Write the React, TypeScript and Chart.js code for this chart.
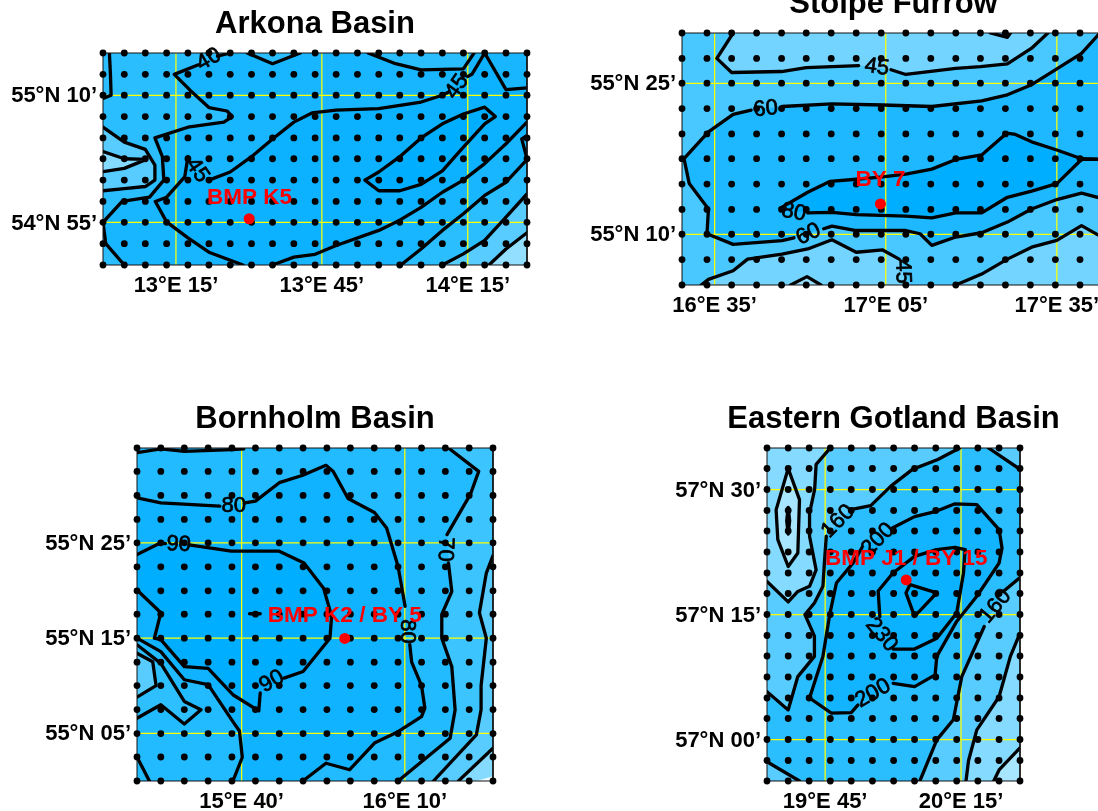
import React, { useEffect, useRef } from "react";
import { Chart, registerables } from "chart.js";

Chart.register(...registerables);

type P = [number, number]; // [grid column, grid row] of the survey grid

const FONT = '"Liberation Sans", Arial, sans-serif';
const C1 = "#00AEFF";
const C2 = "#12B4FF";
const C3 = "#2ABEFF";
const C4 = "#58CCFF";
const C5 = "#85DBFF";
const C6 = "#A8E6FF";

/* ---------- Arkona Basin ---------- */
const arkonaLons = [13.0, 13.073, 13.145, 13.218, 13.291, 13.363, 13.436, 13.509, 13.581, 13.654, 13.727, 13.799, 13.872, 13.945, 14.017, 14.09, 14.163, 14.235, 14.308, 14.381, 14.453];
const arkonaLats = [55.25, 55.208, 55.167, 55.125, 55.083, 55.042, 55.0, 54.958, 54.917, 54.875, 54.833];
const arkonaLonTicks = [13.25, 13.75, 14.25];
const arkonaLonLabels = ["13°E 15’", "13°E 45’", "14°E 15’"];
const arkonaLatTicks = [55.1667, 54.9167];
const arkonaLatLabels = ["55°N 10’", "54°N 55’"];
const aEdge: P[] = [[.3, 0], [.35, 1], [.38, 2], [0, 2.15]];
const a40Top: P[] = [[6, 0], [5.4, .15]];
const a40: P[] = [[4.5, .55], [3.36, 1], [4.1, 1.76], [5, 2.58], [5.85, 2.74], [6.1, 3], [5.7, 3.26], [4, 3.5], [2.45, 4], [2.8, 4.9], [2.87, 6], [2.2, 6.8], [.9, 7], [0, 8], [.13, 9], [1, 10]];
const aPocket: P[] = [[0, 3.5], [1, 4.2], [2, 4.55], [2.45, 5.3], [2.45, 6], [2, 6.3], [1, 6.4], [0, 6.5]];
const aPocketIn: P[] = [[0, 4.65], [1, 5], [2.05, 5.03], [1, 5.45], [0, 5.6]];
const a45West: P[] = [[6.6, 10], [5, 9.4], [4, 8.73], [3, 7.98], [2.47, 7], [3, 6.8], [3.85, 5.85], [4, 4.9]];
const a45Mid: P[] = [[5, 6], [6, 5.62], [7, 4.9], [8, 4.05], [9, 3.26], [9.85, 2.83], [11, 2.7], [13, 2.63], [15, 2.32], [16, 2], [16.3, 1.85]];
const a45East: P[] = [[17.2, 1.1], [17.4, 1], [18, 0], [19, 1.73], [20, 1.65]];
const a50: P[] = [[12.35, 6], [13, 6.5], [14, 6.5], [15, 6.2], [16, 5.57], [17, 4.44], [18, 3.34], [18.5, 3], [18, 2.56], [17, 2.88], [16, 3.34], [15, 4], [14, 4.9], [13, 5.62], [12.35, 6]];
const a45South: P[] = [[8, 10], [9, 9.63], [10, 9.5], [11, 9.09], [13, 8.38], [14, 7.9], [15, 7.28], [16, 6.57], [17, 6], [18, 5.23], [19, 4.28], [20, 3.26]];
const a40South: P[] = [[14.05, 10], [15, 9.25], [16, 8.38], [17, 7.59], [18, 6.72], [19, 6.1], [20, 5.04]];
const aEastEdge: P[] = [[20, 3.9], [19.75, 4.05], [20, 5]];
const a35South: P[] = [[16, 10], [17, 9.48], [18, 8.85], [19, 7.75], [20, 6.65]];
const a30South: P[] = [[18.2, 10], [19, 9.25], [20, 8.49]];
const aNorthEast: P[] = [[12.5, 0], [13.8, .5], [15, .79], [17, .74], [17.5, 0]];
const aNorth: P[] = [[6.8, 0], [8, .5], [9.3, 0]];

/* ---------- Stolpe Furrow ---------- */
const stolpeLons = [16.488, 16.561, 16.633, 16.706, 16.779, 16.851, 16.924, 16.997, 17.07, 17.142, 17.215, 17.288, 17.36, 17.433, 17.506, 17.579, 17.651, 17.724];
const stolpeLats = [55.5, 55.458, 55.417, 55.375, 55.333, 55.292, 55.25, 55.208, 55.167, 55.125, 55.083];
const stolpeLonTicks = [16.5833, 17.0833, 17.5833];
const stolpeLonLabels = ["16°E 35’", "17°E 05’", "17°E 35’"];
const stolpeLatTicks = [55.4167, 55.1667];
const stolpeLatLabels = ["55°N 25’", "55°N 10’"];
const s45A: P[] = [[2.06, 0], [1.4, 1], [2, 1.57], [4, 1.53], [5, 1.37], [7.1, 1.29]];
const s45B: P[] = [[8.4, 1.46], [9, 1.65], [11, 1.4], [12, 1.33], [13.08, 1.22], [14.05, .6], [14.7, 0]];
const sNotch: P[] = [[12.4, 0], [13.08, .17], [13.2, 0]];
const s60A: P[] = [[16.8, 0], [16.06, .8], [15.06, 1.42], [14.05, 2.06], [13.08, 2.46], [12.05, 2.7], [10.04, 2.92], [8.06, 2.86], [6.03, 2.82], [4.02, 2.92]];
const s60B: P[] = [[2.78, 3.06], [2.06, 3.23], [1.06, 3.92], [.08, 5], [.29, 5.98], [1.06, 6.98], [1, 7.98], [2.06, 8.4], [4.02, 8.25], [4.5, 8.14]];
const s60C: P[] = [[5.7, 7.78], [6.03, 7.67], [7, 7.85], [9, 7.85], [9.57, 7.98], [10.04, 8.44], [11, 8.11], [12.05, 7.94], [13.08, 7.51], [14.05, 6.98], [15.06, 6.61], [16.06, 6.36], [17, 6.6]];
const s80A: P[] = [[17, 5.03], [16.06, 5], [15.06, 4.65], [14.05, 4.32], [13.4, 4.02], [13.05, 3.97], [12.05, 4.85], [11, 5.03], [10.04, 5.41], [9, 5.61], [8.06, 5.72], [7, 5.81], [5.96, 5.89], [5.06, 6.32], [3.95, 6.95], [4.1, 7.02]];
const s80B: P[] = [[5.06, 7.14], [6.03, 7.12], [7, 7.21], [9, 7.27], [10.04, 7.34], [11, 7.14], [12.05, 7.14], [13.08, 6.52], [14.05, 6.28], [15.06, 5.98], [16.06, 5.03], [17, 5.03]];
const s45South: P[] = [[.77, 10], [1.06, 9.78], [2.06, 9.44], [2.64, 8.98], [4.02, 8.78], [5.06, 8.58], [6.03, 8.22], [7, 8.71], [8.06, 8.62], [8.73, 8.98]];
const s45SouthEast: P[] = [[11, 10], [12.05, 9.57], [13.08, 8.98], [14.05, 8.51], [15.06, 8.24], [16.06, 7.65], [17, 8.18]];
const sBump: P[] = [[4.37, 10], [5.03, 9.67], [5.59, 10]];

/* ---------- Bornholm Basin ---------- */
const bornholmLons = [15.346, 15.419, 15.491, 15.564, 15.637, 15.709, 15.782, 15.855, 15.928, 16.0, 16.073, 16.146, 16.218, 16.291, 16.364, 16.437];
const bornholmLats = [55.583, 55.542, 55.5, 55.458, 55.417, 55.375, 55.333, 55.292, 55.25, 55.208, 55.167, 55.125, 55.083, 55.042, 55.0];
const bornholmLonTicks = [15.6667, 16.1667];
const bornholmLonLabels = ["15°E 40’", "16°E 10’"];
const bornholmLatTicks = [55.4167, 55.25, 55.0833];
const bornholmLatLabels = ["55°N 25’", "55°N 15’", "55°N 05’"];
const bTop: P[] = [[0, .2], [1, .04], [2, .14], [4, .07], [4.5, .04]];
const b80A: P[] = [[0, 2.1], [1, 2.31], [3.49, 2.45]];
const b80B: P[] = [[4.55, 2.31], [5, 2.24], [6, 1.47], [6.99, 1.16], [7.96, .74], [8.27, 1], [8.9, 2.13], [10.01, 2.71], [10.52, 3.37], [11, 4.98], [11.3, 6.66]];
const b80C: P[] = [[11.5, 8.27], [11.58, 9], [12, 10], [12.14, 10.94], [12, 11.29], [11, 11.92], [10.03, 12.39], [8.97, 13.53], [7.96, 13.26], [6.99, 14]];
const b80West: P[] = [[0, 8], [1, 8.56], [2, 9.75], [3, 9.96], [4.04, 11.5], [4.32, 11.89], [4.44, 13.01], [4.04, 14]];
const b90A: P[] = [[0, 4.49], [1, 4], [1.2, 4.03]];
const b90B: P[] = [[2.2, 4.09], [3.97, 4.35], [6, 4.35], [7.04, 4.84], [7.86, 5.89], [8.2, 7.08], [8.13, 8], [7, 9.4], [6.2, 9.68]];
const b90C: P[] = [[5.2, 10.3], [5.14, 11.05], [4.04, 10.38], [3, 9.26], [2, 9.19], [1, 8.06], [.73, 8], [1, 6.94], [0, 5.96]];
const bDash: P[] = [[4.75, 6.98], [5.2, 6.98]];
const bWest: P[] = [[0, 8.27], [1, 9.05], [2, 10.66], [2.7, 11.01], [2, 11.6], [1, 10.8], [0, 11.36]];
const bWestIn: P[] = [[0, 8.63], [.66, 8.98], [.8, 10], [0, 10.48]];
const bCorner: P[] = [[0, 13], [.52, 14]];
const b70A: P[] = [[13.13, 0], [14.4, 1], [14.05, 1.96], [13.07, 3.65]];
const b70B: P[] = [[13.13, 4.84], [13.27, 6.03], [12.85, 7.01], [12.85, 8], [13.27, 9.19], [13.41, 11.01], [13.2, 12.2], [11, 14]];
const b60: P[] = [[15, 4.53], [14.72, 5.26], [14.43, 6.94], [14.72, 8], [14.5, 10], [14.5, 11], [14.3, 12.06], [12.5, 14]];
const b50: P[] = [[15, 12.62], [13.55, 14]];
const bShore: P[] = [[14.3, 14], [15, 13.8], [15, 14]];

/* ---------- Eastern Gotland Basin ---------- */
const gotlandLons = [19.536, 19.614, 19.691, 19.769, 19.846, 19.924, 20.002, 20.079, 20.157, 20.234, 20.312, 20.39, 20.467];
const gotlandLats = [57.583, 57.542, 57.5, 57.458, 57.417, 57.375, 57.333, 57.292, 57.25, 57.208, 57.167, 57.125, 57.083, 57.042, 57.0, 56.958, 56.917];
const gotlandLonTicks = [19.75, 20.25];
const gotlandLonLabels = ["19°E 45’", "20°E 15’"];
const gotlandLatTicks = [57.5, 57.25, 57.0];
const gotlandLatLabels = ["57°N 30’", "57°N 15’", "57°N 00’"];
const gLens: P[] = [[1, 1], [1.54, 2.48], [1.46, 5.05], [1, 5.69], [.51, 4.41], [.43, 2.97], [1, 1]];
const gLensCore: P[] = [[1, 2.85], [1.07, 3.5], [1, 4.15], [.93, 3.5], [1, 2.85]];
const g120: P[] = [[3, 0], [2.33, .8], [2.26, 2], [2.02, 3.13], [2.02, 4.25], [2.33, 5.85], [2.02, 6.65], [1.46, 6.9], [1, 7.4], [0, 6.41]];
const g160A: P[] = [[9.14, 0], [8.1, .56], [6.9, 1.04], [5.87, 1.84], [4.92, 2.77], [3.97, 2.96]];
const g160B: P[] = [[2.81, 4.25], [2.73, 5.37], [2.65, 6.65], [2.25, 7.45], [1.8, 8], [2.25, 9.03], [2.25, 10.02], [1.46, 10.98], [1, 12.58], [0, 11.7]];
const g200A: P[] = [[5.94, 3.85], [7, 3.3], [8.02, 3.04], [8.92, 2.68], [9.95, 2.72], [11, 3.93], [11.14, 4.81], [11, 5.53], [9.95, 7.13], [9, 8.33], [8.05, 10.02], [7.97, 10.9], [7, 11.46], [5.98, 11.3]];
const g200B: P[] = [[4.32, 12.34], [4, 12.71], [3.05, 12.74], [2.02, 12], [2.65, 10.02], [2.97, 8.01], [3.29, 6.49], [4.08, 5.53], [4.5, 4.8]];
const g230A: P[] = [[9.4, 4.89], [8.92, 4.78], [8.05, 4.89], [7, 5.21], [5.97, 6], [5.27, 6.88], [5.35, 8.1]];
const g230B: P[] = [[5.98, 9.66], [7, 9.66], [8.05, 9.13], [9, 7.93], [9.32, 6.01], [9.4, 4.89]];
const gCore: P[] = [[6.78, 6.57], [8.05, 6.97], [7, 8.09], [6.59, 6.97], [6.78, 6.57]];
const g160EastA: P[] = [[12, 6.22], [11.2, 6.9]];
const g160EastB: P[] = [[10.3, 8.57], [9.24, 10.98], [8.84, 13.06], [8.05, 14.02], [7.25, 16]];
const g120East: P[] = [[12, 8.89], [11.54, 10.02], [11, 11.94], [9.95, 13.54], [9.56, 15], [9.44, 16]];
const g100East: P[] = [[12, 14.4], [11, 15.46], [10.75, 16]];
const gNorthEast: P[] = [[10.5, 0], [12, 1.04]];
const gSouthWest: P[] = [[0, 15.06], [1.54, 16]];

type Label = { at: P; text: string; rot: number };
type Panel = {
  title: string; lons: number[]; lats: number[]; lonTicks: number[]; lonLabels: string[]; latTicks: number[]; latLabels: string[];
  base: string; fills: { color: string; pts: P[] }[]; lines: P[][]; station: P; stationName: P; stationText: string; labels: Label[];
  box: { left: number; right: number; top: number; bottom: number };
};

const panels: Panel[] = [
  {
    title: "Arkona Basin", lons: arkonaLons, lats: arkonaLats, lonTicks: arkonaLonTicks, lonLabels: arkonaLonLabels, latTicks: arkonaLatTicks, latLabels: arkonaLatLabels,
    base: "#18B6FF",
    fills: [
      { color: C3, pts: [...a40Top, ...a40, [0, 10], [0, 0]] },
      { color: C4, pts: aPocket },
      { color: C5, pts: aPocketIn },
      { color: C3, pts: aNorthEast },
      { color: C3, pts: aNorth },
      { color: "#0CB2FF", pts: [...a45West, ...a45Mid, ...a45East, [20, 3.26], ...[...a45South].reverse()] },
      { color: C1, pts: a50 },
      { color: C3, pts: [...a40South, [20, 10]] },
      { color: C4, pts: [...a35South, [20, 10]] },
      { color: "#92DFFF", pts: [...a30South, [20, 10]] },
    ],
    lines: [aEdge, a40Top, a40, aPocket, aPocketIn, a45West, a45Mid, a45East, a50, a45South, a40South, aEastEdge, a35South, a30South, aNorthEast, aNorth],
    station: [6.89, 7.83], stationName: [6.9, 6.85], stationText: "BMP K5",
    labels: [
      { at: [5, .3], text: "40", rot: -30 },
      { at: [4.44, 5.54], text: "45", rot: 55 },
      { at: [16.7, 1.6], text: "45", rot: -55 },
    ],
    box: { left: 103, right: 527, top: 53, bottom: 265 },
  },
  {
    title: "Stolpe Furrow", lons: stolpeLons, lats: stolpeLats, lonTicks: stolpeLonTicks, lonLabels: stolpeLonLabels, latTicks: stolpeLatTicks, latLabels: stolpeLatLabels,
    base: "#49C7FF",
    fills: [
      { color: "#72D4FF", pts: [...s45A, ...s45B] },
      { color: "#49C7FF", pts: sNotch },
      { color: "#1DB8FF", pts: [...s60A, ...s60B, ...s60C, [17, 0]] },
      { color: C1, pts: [...s80A, ...s80B] },
      { color: "#72D4FF", pts: [...s45South, [8.87, 9.5], [9, 10]] },
      { color: "#72D4FF", pts: [...s45SouthEast, [17, 10]] },
      { color: "#9ADFFF", pts: sBump },
    ],
    lines: [s45A, s45B, sNotch, s60A, s60B, s60C, s80A, s80B, s45South, s45SouthEast, sBump],
    station: [7.97, 6.78], stationName: [7.97, 5.83], stationText: "BY 7",
    labels: [
      { at: [7.83, 1.36], text: "45", rot: 8 },
      { at: [3.36, 3.02], text: "60", rot: -5 },
      { at: [4.5, 7.12], text: "80", rot: 10 },
      { at: [5.09, 8], text: "60", rot: -25 },
      { at: [8.87, 9.47], text: "45", rot: 88 },
    ],
    box: { left: 682, right: 1105, top: 33, bottom: 285 },
  },
  {
    title: "Bornholm Basin", lons: bornholmLons, lats: bornholmLats, lonTicks: bornholmLonTicks, lonLabels: bornholmLonLabels, latTicks: bornholmLatTicks, latLabels: bornholmLatLabels,
    base: "#23BBFF",
    fills: [
      { color: "#0FB3FF", pts: [...b80A, ...b80B, ...b80C, ...[...b80West].reverse()] },
      { color: C1, pts: [...b90A, ...b90B, ...b90C] },
      { color: "#2EBFFF", pts: bWest },
      { color: C4, pts: bWestIn },
      { color: "#3CC4FF", pts: [...b70A, ...b70B, [15, 14], [15, 0]] },
      { color: C4, pts: [...b60, [15, 14]] },
      { color: C5, pts: [...b50, [15, 14]] },
      { color: "#F0FBFF", pts: bShore },
    ],
    lines: [bTop, b80A, b80B, b80C, b80West, b90A, b90B, b90C, bDash, bWest, bWestIn, bCorner, b70A, b70B, b60, b50],
    station: [8.76, 8.01], stationName: [8.76, 7.05], stationText: "BMP K2 / BY 5",
    labels: [
      { at: [4.08, 2.43], text: "80", rot: 0 },
      { at: [1.76, 4.07], text: "90", rot: 3 },
      { at: [5.69, 9.82], text: "90", rot: -30 },
      { at: [11.37, 7.72], text: "80", rot: 90 },
      { at: [12.99, 4.28], text: "70", rot: 92 },
    ],
    box: { left: 137, right: 493, top: 448, bottom: 781 },
  },
  {
    title: "Eastern Gotland Basin", lons: gotlandLons, lats: gotlandLats, lonTicks: gotlandLonTicks, lonLabels: gotlandLonLabels, latTicks: gotlandLatTicks, latLabels: gotlandLatLabels,
    base: C4,
    fills: [
      { color: C5, pts: [...g120, [0, 0]] },
      { color: C6, pts: gLens },
      { color: "#000000", pts: gLensCore },
      { color: C3, pts: [...g160A, ...g160B, ...gSouthWest, ...[...g160EastB].reverse(), ...[...g160EastA].reverse(), [12, 1.04], [10.5, 0]] },
      { color: C2, pts: [...g200A, ...g200B] },
      { color: "#0AB2FF", pts: [...g230A, ...g230B] },
      { color: C1, pts: gCore },
      { color: C5, pts: [...g120East, [12, 16]] },
      { color: C6, pts: [...g100East, [12, 16]] },
    ],
    lines: [gLens, gLensCore, g120, g160A, g160B, g200A, g200B, g230A, g230B, gCore, g160EastA, g160EastB, g120East, g100East, gNorthEast, gSouthWest],
    station: [6.6, 6.34], stationName: [6.6, 5.33], stationText: "BMP J1 / BY 15",
    labels: [
      { at: [3.37, 3.53], text: "160", rot: -45 },
      { at: [5.27, 4.41], text: "200", rot: -45 },
      { at: [5.03, 11.78], text: "200", rot: -30 },
      { at: [5.43, 8.97], text: "230", rot: 50 },
      { at: [10.83, 7.61], text: "160", rot: -50 },
    ],
    box: { left: 767, right: 1020, top: 448, bottom: 781 },
  },
];

const AXIS_W = 110;
const AXIS_H = 40;
const TITLE_SIZE = 31;
const TITLE_GAP = 9.8; // with the title line this makes a whole-pixel block

function PanelChart({ panel }: { panel: Panel }) {
  const ref = useRef<HTMLCanvasElement | null>(null);
  const { box } = panel;
  const titleBlock = TITLE_SIZE * 1.2 + TITLE_GAP;
  const cssLeft = box.left - AXIS_W;
  const cssTop = box.top - titleBlock;
  const w = box.right - box.left + AXIS_W * 2;
  const h = titleBlock + (box.bottom - box.top) + AXIS_H;

  useEffect(() => {
    const { lons, lats } = panel;
    const lastC = lons.length - 1;
    const lastR = lats.length - 1;
    const lerp = (a: number[], t: number) => {
      const i = Math.min(Math.max(Math.floor(t), 0), a.length - 2);
      return a[i] + (a[i + 1] - a[i]) * (t - i);
    };
    const geo = (pts: P[]) => pts.map(([c, r]) => ({ x: lerp(lons, c), y: lerp(lats, r) }));
    const xMin = lons[0], xMax = lons[lastC], yMax = lats[0], yMin = lats[lastR];

    const stack: any[] = [];
    const fillSet = (pts: { x: number; y: number }[], color: string) => ({
      data: pts, showLine: true, pointRadius: 0, borderWidth: 0, borderColor: "transparent", backgroundColor: color, fill: "shape",
    });
    stack.push(fillSet([{ x: xMin, y: yMax }, { x: xMax, y: yMax }, { x: xMax, y: yMin }, { x: xMin, y: yMin }], panel.base));
    panel.fills.forEach((f) => stack.push(fillSet(geo(f.pts), f.color)));
    panel.lonTicks.forEach((t) =>
      stack.push({ data: [{ x: t, y: yMin }, { x: t, y: yMax }], showLine: true, pointRadius: 0, borderWidth: 1.25, borderColor: "#FFFF00", fill: false })
    );
    panel.latTicks.forEach((t) =>
      stack.push({ data: [{ x: xMin, y: t }, { x: xMax, y: t }], showLine: true, pointRadius: 0, borderWidth: 1.25, borderColor: "#FFFF00", fill: false })
    );
    panel.lines.forEach((l) =>
      stack.push({ data: geo(l), showLine: true, pointRadius: 0, borderWidth: 3.3, borderColor: "#000", borderJoinStyle: "round", borderCapStyle: "round", fill: false })
    );
    stack.push({
      data: [{ x: xMin, y: yMax }, { x: xMax, y: yMax }, { x: xMax, y: yMin }, { x: xMin, y: yMin }, { x: xMin, y: yMax }],
      showLine: true, pointRadius: 0, borderWidth: 1, borderColor: "#111", fill: false, clip: false,
    });
    const dots: { x: number; y: number }[] = [];
    lats.forEach((y) => lons.forEach((x) => dots.push({ x, y })));
    stack.push({ data: dots, showLine: false, pointRadius: 3.4, pointBorderWidth: 0, backgroundColor: "#000", clip: false });
    stack.push({ data: geo([panel.station]), showLine: false, pointRadius: 5.5, pointBorderWidth: 0, backgroundColor: "#FF0000", clip: false });
    stack.forEach((d, i) => (d.order = stack.length - i));

    const labelPlugin = {
      id: "mapLabels",
      afterLayout(chart: any) {
        const t = chart.titleBlock;
        t.left = 0;
        t.right = chart.width;
        t.width = chart.width;
      },
      afterDatasetsDraw(chart: any) {
        const { ctx, scales } = chart;
        const put = (at: P, text: string, rot: number, color: string, bold: boolean, size: number) => {
          const [pt] = geo([at]);
          ctx.save();
          ctx.translate(scales.x.getPixelForValue(pt.x), scales.y.getPixelForValue(pt.y));
          ctx.rotate((rot * Math.PI) / 180);
          ctx.font = `${bold ? "bold " : ""}${size}px ${FONT}`;
          ctx.textAlign = "center";
          ctx.textBaseline = "middle";
          ctx.fillStyle = color;
          ctx.fillText(text, 0, 0);
          if (!bold) {
            ctx.strokeStyle = color;
            ctx.lineWidth = 0.7;
            ctx.strokeText(text, 0, 0);
          }
          ctx.restore();
        };
        panel.labels.forEach((l) => put(l.at, l.text, l.rot, "#000", false, 22));
        put(panel.stationName, panel.stationText, 0, "#FF0000", true, 22.5);
      },
    };

    const tickFont = { family: FONT, size: 22, weight: "bold" as const };
    const chart = new Chart(ref.current!, {
      type: "scatter",
      data: { datasets: stack },
      plugins: [labelPlugin],
      options: {
        animation: false,
        responsive: false,
        events: [],
        layout: { autoPadding: false, padding: { left: 0, right: AXIS_W, top: 0, bottom: 0 } },
        plugins: {
          legend: { display: false },
          tooltip: { enabled: false },
          title: {
            display: true, text: panel.title, color: "#000",
            font: { family: FONT, size: TITLE_SIZE, weight: "bold" }, padding: { top: 0, bottom: TITLE_GAP },
          },
        },
        scales: {
          x: {
            type: "linear", min: xMin, max: xMax,
            grid: { display: false, drawTicks: false }, border: { display: false },
            afterBuildTicks: (s: any) => { s.ticks = panel.lonTicks.map((value) => ({ value })); },
            afterFit: (s: any) => { s.height = AXIS_H; },
            ticks: {
              autoSkip: false, maxRotation: 0, minRotation: 0, padding: 8, color: "#000", font: tickFont,
              callback: (_v: any, i: number) => panel.lonLabels[i],
            },
          },
          y: {
            type: "linear", min: yMin, max: yMax,
            grid: { display: false, drawTicks: false }, border: { display: false },
            afterBuildTicks: (s: any) => { s.ticks = panel.latTicks.map((value) => ({ value })); },
            afterFit: (s: any) => { s.width = AXIS_W; },
            ticks: {
              autoSkip: false, padding: 6, color: "#000", font: tickFont, labelOffset: 1,
              callback: (_v: any, i: number) => panel.latLabels[i],
            },
          },
        },
      } as any,
    });
    return () => chart.destroy();
  }, [panel]);

  return (
    <canvas
      ref={ref}
      width={Math.round(w)}
      height={Math.round(h)}
      style={{ position: "absolute", left: Math.round(cssLeft), top: Math.round(cssTop), width: Math.round(w), height: Math.round(h) }}
    />
  );
}

export default function App() {
  return (
    <div style={{ position: "fixed", left: 0, top: 0, width: 1098, height: 811, overflow: "hidden", background: "#fff" }}>
      {panels.map((p) => (
        <PanelChart key={p.title} panel={p} />
      ))}
    </div>
  );
}
